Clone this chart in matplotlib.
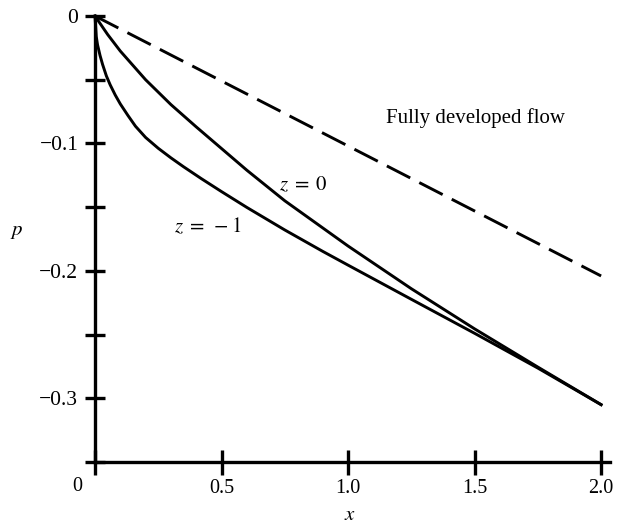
import numpy as np
import matplotlib
matplotlib.use('Agg')
from matplotlib import pyplot as plt

# Values
x_full = [0.0, 2.0]
p_full = [0.0, -0.204]

x_z0 = [0.0, 0.05, 0.1, 0.2, 0.3, 0.4, 0.5, 0.6, 0.75, 1.0, 1.25, 1.5, 1.75, 2.0]
p_z0 = [0.0, -0.0145, -0.0275, -0.050, -0.0695, -0.087, -0.104, -0.121,
        -0.145, -0.1805, -0.2140, -0.2455, -0.2755, -0.305]

x_zm1 = [0.0, 0.005, 0.01, 0.02, 0.03, 0.045, 0.06, 0.08, 0.1, 0.13, 0.16,
         0.2, 0.25, 0.3, 0.35, 0.42, 0.5, 0.6, 0.75, 0.9, 1.0, 1.25, 1.5,
         1.75, 2.0]
p_zm1 = [0.0, -0.016, -0.0225, -0.031, -0.038, -0.047, -0.054, -0.062,
         -0.069, -0.078, -0.0865, -0.0953, -0.1038, -0.1113, -0.1183,
         -0.1276, -0.1378, -0.1502, -0.1679, -0.1847, -0.1955, -0.2223,
         -0.2490, -0.2763, -0.3050]

x_ticks = [0.5, 1.0, 1.5, 2.0]
x_ticklabels = ['0.5', '1.0', '1.5', '2.0']
y_ticks = [0.0, -0.1, -0.2, -0.3]
y_ticklabels = ['0', '\u22120.1', '\u22120.2', '\u22120.3']
y_minor = [-0.05, -0.15, -0.25, -0.35]

plt.rcParams['font.family'] = ['Liberation Serif', 'DejaVu Serif']
plt.rcParams['mathtext.fontset'] = 'stix'

fig = plt.figure(figsize=(6.18, 5.25), dpi=100)
ax = fig.add_axes([0.1537, 0.12, 0.8333, 0.8495])

ax.plot(x_full, p_full, color='black', lw=2.1, dashes=(9, 3.5),
        solid_capstyle='round', clip_on=False)
ax.plot(x_z0, p_z0, color='black', lw=2.1, clip_on=False)
ax.plot(x_zm1, p_zm1, color='black', lw=2.1, clip_on=False)

ax.set_xlim(0, 2.035)
ax.set_ylim(-0.35, 0)

for side in ['top', 'right']:
    ax.spines[side].set_visible(False)
for side in ['left', 'bottom']:
    ax.spines[side].set_linewidth(2.4)

ax.set_xticks([0.0] + x_ticks)
ax.set_xticklabels([''] + x_ticklabels)
ax.set_yticks(y_ticks)
ax.set_yticklabels(y_ticklabels)
ax.set_yticks(y_minor, minor=True)

ax.tick_params(axis='x', direction='inout', length=18, width=2.4,
               labelsize=14.5, pad=3)
ax.tick_params(axis='y', which='both', direction='inout', length=14,
               width=2.4, labelsize=15.5, pad=5)
for t in ax.get_xticklines() + ax.get_yticklines():
    t.set_clip_on(False)

# origin label for x, sitting left of the corner
ax.text(-0.035, -0.056, '0', transform=ax.transAxes, ha='center',
        va='center', fontsize=14.5)
ax.text(1.008, -0.119, '$x$', transform=ax.get_xaxis_transform(),
        ha='center', va='center', fontsize=15)
ax.text(-0.308, -0.169, '$p$', ha='center', va='center', fontsize=15,
        clip_on=False)

ax.text(1.502, -0.080, 'Fully developed flow', ha='center', va='center',
        fontsize=15)
ax.text(0.822, -0.133, r'$z\;=\;0$', ha='center', va='center', fontsize=15)
ax.text(0.447, -0.166, r'$z\;=\;-1$', ha='center', va='center', fontsize=15)

fig.savefig('out.png', dpi=100)
